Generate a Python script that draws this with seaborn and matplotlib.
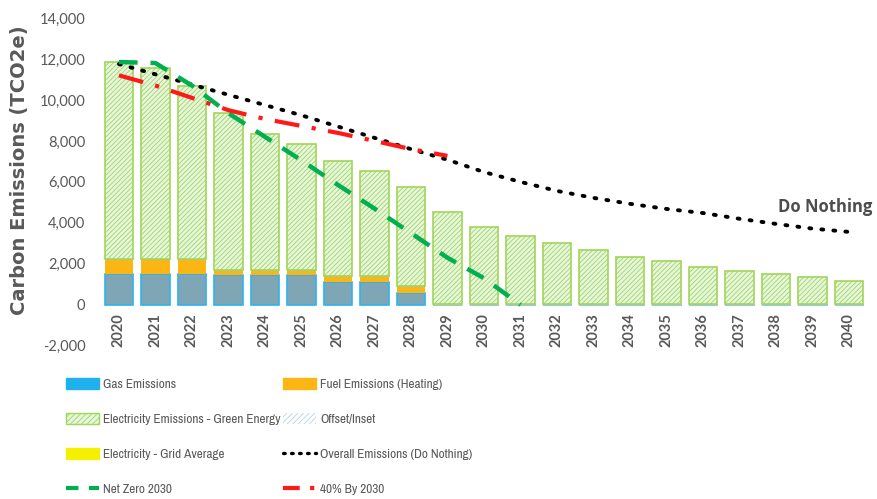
import matplotlib
matplotlib.use("Agg")
import matplotlib.pyplot as plt
from matplotlib.patches import Patch
from matplotlib.lines import Line2D
import numpy as np
import pandas as pd
import seaborn as sns

# data
years = [str(y) for y in range(2020, 2041)]
gas = [1500, 1500, 1500, 1450, 1450, 1450, 1100, 1100, 600, 0, 0,
       0, 0, 0, 0, 0, 0, 0, 0, 0, 0]
fuel = [750, 750, 750, 250, 250, 250, 300, 300, 300, 0, 0,
        0, 0, 0, 0, 0, 0, 0, 0, 0, 0]
offset = [0, 0, 0, 0, 0, 0, 0, 0, 0, 0, 40,
          40, 40, 40, 40, 40, 40, 40, 40, 40, 40]
grid_avg = [0, 0, 0, 0, 0, 0, 0, 0, 0, 60, 0,
            0, 0, 0, 0, 0, 0, 0, 0, 0, 0]
green = [9600, 9300, 8450, 7650, 6650, 6150, 5620, 5150, 4860, 4470, 3760,
         3330, 2980, 2640, 2300, 2110, 1810, 1620, 1470, 1330, 1130]
do_nothing = [11750, 11250, 10750, 10250, 9750, 9250, 8700, 8150, 7600, 7080, 6480,
              6000, 5560, 5220, 4930, 4680, 4480, 4200, 3950, 3720, 3560]
net_zero = [11850, 11800, 10700, 9350, 8200, 7050, 5850, 4700, 3500, 2300, 1300, 0]
forty_pct = [11200, 10700, 10100, 9500, 9070, 8730, 8390, 8000, 7600, 7270]

df = pd.DataFrame({"year": years, "pos": np.arange(len(years)), "gas": gas,
                   "fuel": fuel, "offset": offset, "grid": grid_avg,
                   "green": green, "nothing": do_nothing})
df["b_fuel"] = df["gas"]
df["b_offset"] = df["b_fuel"] + df["fuel"]
df["b_grid"] = df["b_offset"] + df["offset"]
df["b_green"] = df["b_grid"] + df["grid"]

nz = pd.DataFrame({"pos": np.arange(len(net_zero)), "val": net_zero})
fp = pd.DataFrame({"pos": np.arange(len(forty_pct)), "val": forty_pct})

sns.set_style("white")
plt.rcParams["font.family"] = ["Lato", "DejaVu Sans"]
plt.rcParams["hatch.linewidth"] = 0.6

narrow = ["Archivo Narrow", "PT Sans Narrow", "Roboto Condensed", "Lato", "DejaVu Sans"]
txt = "#595959"
fig = plt.figure(figsize=(8.78, 4.99), dpi=100)
ax = fig.add_axes([0.1147, 0.307, 0.873, 0.657])

w = 0.77
sns.barplot(data=df, x="year", y="gas", color="#7ea6b4", edgecolor="#2db4ee",
            linewidth=1.2, width=w, saturation=1, ax=ax)
sns.barplot(data=df, x="year", y="fuel", bottom=df["b_fuel"], color="#fbb614",
            linewidth=0, width=w, saturation=1, ax=ax)
sns.barplot(data=df, x="year", y="offset", bottom=df["b_offset"], color="#cfe6f2",
            edgecolor="#9cc8e2", linewidth=0.8, width=w, saturation=1, ax=ax)
sns.barplot(data=df, x="year", y="grid", bottom=df["b_grid"], color="#f4f000",
            linewidth=0, width=w, saturation=1, ax=ax)
sns.barplot(data=df, x="year", y="green", bottom=df["b_green"], color="#e6f6e0",
            edgecolor="#a2d657", hatch="///////", linewidth=1.2, width=w,
            saturation=1, ax=ax)

sns.lineplot(data=df, x="pos", y="nothing", color="black", lw=2.8,
             linestyle=(0, (0.5, 2.6)), dash_capstyle="round", ax=ax)
sns.lineplot(data=nz, x="pos", y="val", color="#00b050", lw=3.2,
             linestyle=(0, (4.2, 2.9)), ax=ax)
sns.lineplot(data=fp, x="pos", y="val", color="#ff1a1a", lw=3.0,
             linestyle=(0, (6, 3, 1, 3)), ax=ax)

ax.set_xlim(-0.5, 20.5)
ax.set_ylim(-2000, 14000)
ax.set_yticks(range(-2000, 14001, 2000))
ax.set_yticklabels([f"{v:,}" for v in range(-2000, 14001, 2000)], fontsize=10.5, color=txt)
ax.spines["bottom"].set_position(("data", 0))
for s in ax.spines.values():
    s.set_visible(False)
ax.tick_params(axis="both", length=0)
ax.tick_params(axis="y", pad=11)
ax.tick_params(axis="x", pad=6)
for lab in ax.get_xticklabels():
    lab.set_rotation(90)
    lab.set_fontsize(10.5)
    lab.set_fontweight("bold")
    lab.set_color(txt)
ax.set_xlabel("")
ax.set_ylabel("Carbon Emissions (TCO2e)", fontsize=14, fontweight="bold",
              color=txt, family=["DejaVu Sans"])
ax.yaxis.set_label_coords(-0.093, 0.535)

ax.text(18.05, 4750, "Do Nothing", fontsize=12, fontweight="bold", color="#4d4d4d",
        va="center", ha="left", clip_on=False, family=["Open Sans", "DejaVu Sans"])

h_gas = Patch(facecolor="#1fb0ee", edgecolor="#1fb0ee")
h_fuel = Patch(facecolor="#fbb614", edgecolor="#fbb614")
h_green = Patch(facecolor="#e6f6e0", edgecolor="#a2d657", hatch="//////")
h_off = Patch(facecolor="white", edgecolor="#b5d4e8", hatch="//////", lw=0)
h_grid = Patch(facecolor="#f4f000", edgecolor="#f4f000")
h_nothing = Line2D([], [], color="black", lw=2.4, linestyle=(0, (0.5, 1.9)),
                   dash_capstyle="round")
h_nz = Line2D([], [], color="#00b050", lw=3.0, linestyle=(0, (3, 2.5)))
h_fp = Line2D([], [], color="#ff1a1a", lw=3.0, linestyle=(0, (4, 2.5, 1, 2.5)))

# matplotlib fills legend columns first, so list left column then right column
handles = [h_gas, h_green, h_grid, h_nz, h_fuel, h_off, h_nothing, h_fp]
labels = ["Gas Emissions", "Electricity Emissions - Green Energy",
          "Electricity - Grid Average", "Net Zero 2030",
          "Fuel Emissions (Heating)", "Offset/Inset",
          "Overall Emissions (Do Nothing)", "40% By 2030"]
leg = fig.legend(handles, labels, ncol=2, loc="upper left",
                 bbox_to_anchor=(0.068, 0.255), frameon=False,
                 prop={"family": narrow, "size": 9.5},
                 handlelength=2.5, handleheight=0.9, handletextpad=0.3,
                 columnspacing=0.2, labelspacing=1.72, borderpad=0)
for t in leg.get_texts():
    t.set_color(txt)

fig.savefig("out.png", dpi=100)
